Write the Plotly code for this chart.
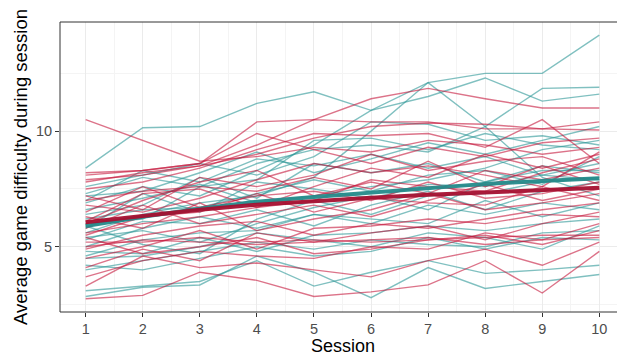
import plotly.graph_objects as go

sessions = [1, 2, 3, 4, 5, 6, 7, 8, 9, 10]

teal_players = [
    [8.4, 10.15, 10.2, 11.2, 11.7, 10.9, 12.1, 12.5, 12.5, 14.15],
    [6.9, 7.6, 7.2, 8.3, 9.4, 10.9, 11.5, 12.3, 11.3, 11.6],
    [5.6, 6.4, 6.9, 7.2, 8.0, 10.0, 12.1, 10.2, 8.0, 7.2],
    [7.3, 8.0, 7.6, 8.6, 9.2, 9.4, 9.1, 10.2, 11.85, 11.9],
    [2.85, 3.25, 3.35, 4.6, 3.9, 2.8, 4.1, 3.2, 3.5, 3.8],
    [3.1, 3.3, 3.5, 4.4, 3.3, 3.9, 4.4, 3.85, 4.0, 4.2],
    [4.2, 4.0, 4.5, 5.0, 4.6, 4.8, 5.4, 4.9, 5.4, 5.3],
    [4.5, 4.6, 5.0, 5.6, 5.3, 5.0, 5.6, 5.4, 4.9, 5.9],
    [5.0, 5.8, 6.3, 5.8, 6.4, 6.0, 6.8, 6.4, 6.9, 6.6],
    [5.8, 7.3, 6.5, 7.8, 7.5, 7.1, 7.7, 7.6, 8.1, 8.6],
    [6.4, 6.8, 8.0, 7.1, 8.6, 8.2, 8.6, 7.8, 8.3, 8.3],
    [7.0, 8.3, 7.8, 8.8, 8.5, 9.0, 8.4, 8.9, 8.1, 7.9],
    [6.0, 6.2, 7.6, 7.9, 9.6, 9.7, 9.2, 9.9, 9.4, 9.2],
    [5.3, 6.1, 6.0, 6.6, 5.9, 6.8, 7.4, 6.6, 7.4, 7.8],
    [4.6, 5.3, 5.6, 5.7, 6.4, 6.2, 6.0, 7.0, 6.3, 6.9],
    [6.6, 7.1, 7.7, 6.9, 7.2, 7.6, 7.9, 8.4, 9.2, 9.6],
    [7.6, 8.1, 8.6, 8.1, 8.9, 10.4, 10.3, 9.6, 9.8, 9.4],
    [5.9, 5.1, 4.7, 6.2, 7.0, 6.4, 7.2, 7.3, 7.8, 8.0],
    [4.8, 4.7, 5.4, 4.8, 5.5, 5.6, 5.9, 5.7, 6.0, 6.2],
    [6.2, 6.6, 6.7, 7.3, 7.9, 7.4, 8.1, 8.3, 7.7, 8.9],
    [5.4, 5.7, 5.2, 6.0, 6.7, 7.2, 6.6, 7.8, 8.5, 8.2],
    [7.2, 7.4, 8.2, 9.1, 8.2, 8.8, 9.5, 9.0, 9.6, 10.2],
    [4.0, 4.4, 4.8, 5.2, 4.9, 5.3, 5.1, 5.0, 5.6, 5.7],
]

red_players = [
    [10.5, 9.6, 8.7, 8.9, 9.3, 9.1, 9.6, 9.4, 9.0, 9.3],
    [7.8, 8.2, 8.5, 9.4, 10.5, 11.4, 11.85, 11.4, 11.0, 11.0],
    [8.1, 8.3, 8.6, 10.4, 10.5, 10.4, 10.4, 10.1, 10.1, 10.05],
    [7.9, 8.1, 8.5, 9.0, 9.7, 10.2, 10.35, 10.3, 10.1, 10.4],
    [7.5, 7.8, 8.4, 9.2, 9.9, 9.8, 9.9, 9.3, 10.5, 8.6],
    [2.75, 2.9, 3.9, 3.55, 2.85, 3.05, 3.35, 4.4, 3.0, 4.8],
    [3.3, 4.6, 4.1, 4.3, 4.0, 3.7, 4.4, 4.9, 4.2, 5.2],
    [5.0, 5.3, 5.2, 5.1, 5.2, 5.3, 5.4, 5.1, 5.3, 5.4],
    [5.2, 5.2, 5.4, 5.2, 5.3, 5.2, 5.3, 5.4, 5.5, 5.5],
    [6.3, 5.8, 6.9, 5.7, 6.2, 6.6, 7.3, 6.6, 6.9, 7.3],
    [7.0, 7.4, 7.6, 7.4, 8.0, 7.5, 8.7, 7.6, 8.5, 7.7],
    [5.6, 6.0, 6.3, 6.7, 7.0, 7.9, 7.6, 7.4, 8.2, 8.8],
    [4.5, 5.0, 5.7, 4.9, 5.8, 5.9, 6.2, 6.0, 6.4, 6.3],
    [3.7, 4.4, 4.8, 4.6, 4.5, 5.0, 4.9, 5.6, 5.3, 6.0],
    [6.0, 7.0, 7.8, 8.3, 7.2, 7.8, 7.3, 8.3, 7.9, 8.4],
    [6.8, 6.5, 7.1, 7.9, 8.6, 8.2, 8.5, 8.1, 7.6, 9.1],
    [8.2, 8.3, 8.6, 9.9, 9.2, 8.6, 9.3, 8.9, 9.5, 9.7],
    [5.8, 6.8, 6.0, 6.4, 6.8, 6.3, 7.0, 7.7, 7.0, 7.5],
    [4.9, 5.5, 5.9, 6.1, 5.5, 6.0, 5.8, 6.2, 6.6, 6.9],
    [6.5, 7.6, 6.7, 7.2, 7.4, 7.0, 7.8, 7.1, 7.3, 7.8],
    [5.4, 4.7, 5.0, 5.4, 4.7, 4.9, 5.3, 5.5, 5.1, 5.7],
    [7.2, 6.6, 8.0, 7.6, 8.1, 9.0, 8.3, 8.7, 8.9, 8.1],
    [4.1, 4.9, 4.4, 5.6, 5.2, 5.6, 5.9, 5.3, 6.0, 6.5],
    [6.1, 7.3, 7.5, 6.7, 7.6, 8.4, 8.0, 9.0, 8.4, 9.0],
    [5.5, 6.3, 6.5, 7.3, 6.5, 7.1, 6.9, 6.8, 7.6, 7.0],
]

teal_mean = [5.9, 6.3, 6.65, 6.95, 7.15, 7.35, 7.55, 7.72, 7.85, 7.96]
red_mean = [6.06, 6.35, 6.6, 6.82, 6.99, 7.12, 7.25, 7.36, 7.45, 7.55]

x_ticks = [1, 2, 3, 4, 5, 6, 7, 8, 9, 10]
y_ticks = [5, 10]
x_title = "Session"
y_title = "Average game difficulty during session"

TEAL_THIN = "rgba(44,150,150,0.6)"
RED_THIN = "rgba(196,22,58,0.6)"
TEAL_THICK = "rgba(36,138,138,0.95)"
RED_THICK = "rgba(165,16,48,0.95)"

fig = go.Figure()

for vals in teal_players:
    fig.add_trace(go.Scatter(x=sessions, y=vals, mode="lines",
                             line=dict(color=TEAL_THIN, width=1.4),
                             showlegend=False, hoverinfo="skip"))
for vals in red_players:
    fig.add_trace(go.Scatter(x=sessions, y=vals, mode="lines",
                             line=dict(color=RED_THIN, width=1.4),
                             showlegend=False, hoverinfo="skip"))

fig.add_trace(go.Scatter(x=sessions, y=teal_mean, mode="lines",
                         line=dict(color=TEAL_THICK, width=4),
                         showlegend=False))
fig.add_trace(go.Scatter(x=sessions, y=red_mean, mode="lines",
                         line=dict(color=RED_THICK, width=4),
                         showlegend=False))

font_family = "Liberation Sans, Arial, sans-serif"

# page body has an 8px margin, so the figure is sized to fill the rest of the window
fig.update_layout(
    width=617, height=348,
    margin=dict(l=52, r=0, t=14, b=44, autoexpand=False),
    paper_bgcolor="white", plot_bgcolor="white",
    font=dict(family=font_family),
    showlegend=False,
    xaxis=dict(
        range=[0.55, 10.45], automargin=False,
        tickmode="array", tickvals=x_ticks, ticktext=[str(v) for v in x_ticks],
        showgrid=True, gridcolor="#EBEBEB", gridwidth=1,
        minor=dict(tickmode="array", tickvals=[v + 0.5 for v in x_ticks[:-1]],
                   showgrid=True, gridcolor="#F4F4F4", gridwidth=0.6),
        ticks="outside", ticklen=4, tickwidth=1, tickcolor="#333333",
        tickfont=dict(size=14.5, color="#4D4D4D"),
        zeroline=False, showline=False,
    ),
    yaxis=dict(
        range=[2.18, 14.72], automargin=False,
        tickmode="array", tickvals=y_ticks, ticktext=[str(v) for v in y_ticks],
        showgrid=True, gridcolor="#EBEBEB", gridwidth=1,
        minor=dict(tickmode="array", tickvals=[2.5, 7.5, 12.5],
                   showgrid=True, gridcolor="#F4F4F4", gridwidth=0.6),
        ticks="outside", ticklen=4, tickwidth=1, tickcolor="#333333",
        tickfont=dict(size=14.5, color="#4D4D4D"),
        zeroline=False, showline=False,
    ),
    annotations=[
        dict(text=x_title, xref="paper", yref="paper", x=0.5, y=0,
             xanchor="center", yanchor="middle", yshift=-34, showarrow=False,
             font=dict(size=18, color="black")),
        dict(text=y_title, xref="paper", yref="paper", x=0, y=0.5,
             xanchor="center", yanchor="middle", xshift=-40, textangle=-90,
             showarrow=False, font=dict(size=18.5, color="black")),
    ],
    shapes=[dict(type="rect", xref="paper", yref="paper", x0=0, x1=1.02, y0=0, y1=1,
                 line=dict(color="#333333", width=1), fillcolor="rgba(0,0,0,0)")],
)

fig.write_html("out.html")
